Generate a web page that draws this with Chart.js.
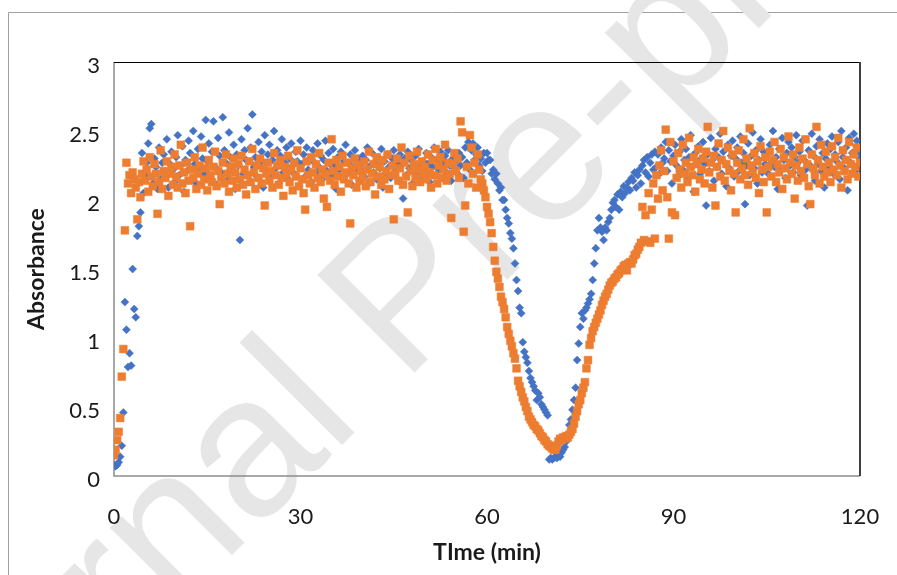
<!DOCTYPE html>
<html>
<head>
<meta charset="utf-8">
<script src="https://cdn.jsdelivr.net/npm/chart.js@4.4.0/dist/chart.umd.min.js"></script>
<style>
    html, body { margin: 0; padding: 0; background: #ffffff; }
    #wrap { width: 897px; height: 575px; position: relative; }
</style>
</head>
<body>
<div id="wrap"><canvas id="chart" width="897" height="575"></canvas></div>
<script>
//Absorbance vs time, two runs.
//one sample every quarter minute.

const TIME_MIN = [
    0,0.25,0.5,0.75,1,1.25,1.5,1.75,2,2.25,2.5,2.75,3,3.25,3.5,3.75,4,4.25,4.5,4.75,
    5,5.25,5.5,5.75,6,6.25,6.5,6.75,7,7.25,7.5,7.75,8,8.25,8.5,8.75,9,9.25,9.5,9.75,
    10,10.25,10.5,10.75,11,11.25,11.5,11.75,12,12.25,12.5,12.75,13,13.25,13.5,13.75,14,14.25,14.5,14.75,
    15,15.25,15.5,15.75,16,16.25,16.5,16.75,17,17.25,17.5,17.75,18,18.25,18.5,18.75,19,19.25,19.5,19.75,
    20,20.25,20.5,20.75,21,21.25,21.5,21.75,22,22.25,22.5,22.75,23,23.25,23.5,23.75,24,24.25,24.5,24.75,
    25,25.25,25.5,25.75,26,26.25,26.5,26.75,27,27.25,27.5,27.75,28,28.25,28.5,28.75,29,29.25,29.5,29.75,
    30,30.25,30.5,30.75,31,31.25,31.5,31.75,32,32.25,32.5,32.75,33,33.25,33.5,33.75,34,34.25,34.5,34.75,
    35,35.25,35.5,35.75,36,36.25,36.5,36.75,37,37.25,37.5,37.75,38,38.25,38.5,38.75,39,39.25,39.5,39.75,
    40,40.25,40.5,40.75,41,41.25,41.5,41.75,42,42.25,42.5,42.75,43,43.25,43.5,43.75,44,44.25,44.5,44.75,
    45,45.25,45.5,45.75,46,46.25,46.5,46.75,47,47.25,47.5,47.75,48,48.25,48.5,48.75,49,49.25,49.5,49.75,
    50,50.25,50.5,50.75,51,51.25,51.5,51.75,52,52.25,52.5,52.75,53,53.25,53.5,53.75,54,54.25,54.5,54.75,
    55,55.25,55.5,55.75,56,56.25,56.5,56.75,57,57.25,57.5,57.75,58,58.25,58.5,58.75,59,59.25,59.5,59.75,
    60,60.25,60.5,60.75,61,61.25,61.5,61.75,62,62.25,62.5,62.75,63,63.25,63.5,63.75,64,64.25,64.5,64.75,
    65,65.25,65.5,65.75,66,66.25,66.5,66.75,67,67.25,67.5,67.75,68,68.25,68.5,68.75,69,69.25,69.5,69.75,
    70,70.25,70.5,70.75,71,71.25,71.5,71.75,72,72.25,72.5,72.75,73,73.25,73.5,73.75,74,74.25,74.5,74.75,
    75,75.25,75.5,75.75,76,76.25,76.5,76.75,77,77.25,77.5,77.75,78,78.25,78.5,78.75,79,79.25,79.5,79.75,
    80,80.25,80.5,80.75,81,81.25,81.5,81.75,82,82.25,82.5,82.75,83,83.25,83.5,83.75,84,84.25,84.5,84.75,
    85,85.25,85.5,85.75,86,86.25,86.5,86.75,87,87.25,87.5,87.75,88,88.25,88.5,88.75,89,89.25,89.5,89.75,
    90,90.25,90.5,90.75,91,91.25,91.5,91.75,92,92.25,92.5,92.75,93,93.25,93.5,93.75,94,94.25,94.5,94.75,
    95,95.25,95.5,95.75,96,96.25,96.5,96.75,97,97.25,97.5,97.75,98,98.25,98.5,98.75,99,99.25,99.5,99.75,
    100,100.25,100.5,100.75,101,101.25,101.5,101.75,102,102.25,102.5,102.75,103,103.25,103.5,103.75,104,104.25,104.5,104.75,
    105,105.25,105.5,105.75,106,106.25,106.5,106.75,107,107.25,107.5,107.75,108,108.25,108.5,108.75,109,109.25,109.5,109.75,
    110,110.25,110.5,110.75,111,111.25,111.5,111.75,112,112.25,112.5,112.75,113,113.25,113.5,113.75,114,114.25,114.5,114.75,
    115,115.25,115.5,115.75,116,116.25,116.5,116.75,117,117.25,117.5,117.75,118,118.25,118.5,118.75,119,119.25,119.5,119.75,
    120,
];

//blue diamonds
const RUN_A = [
    0.08,0.07,0.08,0.10,0.14,0.22,0.46,1.26,1.06,0.79,0.89,0.80,1.50,1.21,1.15,1.74,1.81,1.91,2.34,2.05,
    2.18,2.27,2.41,2.52,2.55,2.12,2.30,2.24,2.08,2.38,2.15,2.27,2.33,2.19,2.44,2.09,2.26,2.35,2.22,2.13,
    2.31,2.47,2.18,2.25,2.39,2.06,2.29,2.21,2.43,2.34,2.15,2.50,2.26,2.12,2.37,2.23,2.46,2.30,2.19,2.58,
    2.28,2.41,2.17,2.35,2.57,2.24,2.11,2.45,2.32,2.20,2.60,2.36,2.27,2.14,2.49,2.31,2.22,2.40,2.08,2.33,
    2.25,1.71,2.44,2.19,2.36,2.29,2.52,2.13,2.38,2.62,2.24,2.31,2.17,2.42,2.27,2.35,2.09,2.47,2.21,2.33,
    2.40,2.18,2.29,2.50,2.23,2.36,2.12,2.32,2.44,2.20,2.27,2.38,2.15,2.30,2.41,2.25,2.19,2.35,2.28,2.10,
    2.43,2.26,2.33,2.17,2.38,2.22,2.30,2.13,2.36,2.27,2.20,2.41,2.24,2.32,2.15,2.29,2.43,2.21,2.34,2.26,
    2.18,2.37,2.25,2.08,2.31,2.22,2.35,2.16,2.28,2.40,2.19,2.27,2.33,2.11,2.24,2.36,2.21,2.30,2.14,2.26,
    2.32,2.17,2.29,2.38,2.12,2.25,2.34,2.20,2.27,2.15,2.31,2.23,2.37,2.09,2.28,2.19,2.33,2.24,2.16,2.30,
    2.36,2.21,2.27,2.14,2.33,2.25,2.01,2.30,2.18,2.35,2.23,2.29,2.12,2.26,2.32,2.19,2.37,2.24,2.15,2.28,
    2.21,2.34,2.26,2.13,2.31,2.24,2.38,2.18,2.29,2.22,2.35,2.16,2.27,2.32,2.20,2.36,2.25,2.14,2.30,2.23,
    2.28,2.19,2.34,2.25,2.31,2.16,2.38,2.27,2.42,2.22,2.36,2.41,2.29,2.33,2.38,2.25,2.30,2.21,2.34,2.27,
    2.34,2.29,2.29,2.19,2.22,2.15,2.19,2.12,2.07,2.09,2.00,2.00,1.93,1.87,1.83,1.76,1.72,1.65,1.54,1.42,
    1.34,1.22,1.18,0.97,0.90,0.86,0.82,0.76,0.71,0.68,0.65,0.62,0.55,0.60,0.57,0.52,0.50,0.48,0.46,0.44,
    0.12,0.13,0.12,0.13,0.14,0.13,0.15,0.14,0.17,0.19,0.21,0.25,0.30,0.37,0.41,0.48,0.55,0.64,0.84,0.96,
    1.08,1.18,1.14,1.20,1.22,1.25,1.28,1.32,1.42,1.54,1.65,1.78,1.87,1.80,1.77,1.71,1.80,1.78,1.84,1.87,
    1.93,1.98,2.00,1.95,2.04,1.93,2.06,2.02,2.10,2.05,2.09,2.13,2.07,2.16,2.14,2.20,2.09,2.18,2.22,2.12,
    2.25,2.29,2.20,2.31,2.17,2.27,2.33,2.22,2.35,2.24,2.33,2.19,2.38,2.27,2.30,2.42,2.21,2.36,2.28,2.12,
    2.32,2.40,2.25,2.17,2.35,2.44,2.22,2.29,2.37,2.15,2.31,2.47,2.24,2.06,2.34,2.27,2.39,2.19,2.30,2.42,
    2.26,1.96,2.33,2.21,2.45,2.29,2.14,2.37,2.24,2.31,2.48,2.19,2.35,2.27,2.10,2.40,2.23,2.32,2.43,2.17,
    2.30,2.38,2.21,2.46,2.27,2.34,1.97,2.25,2.41,2.18,2.32,2.49,2.23,2.36,2.12,2.29,2.44,2.20,2.35,2.26,
    2.33,2.19,2.40,2.27,2.50,2.24,2.31,2.08,2.37,2.22,2.45,2.29,2.16,2.34,2.42,2.25,2.38,2.20,2.31,2.47,
    2.27,2.35,2.18,2.43,2.29,2.22,1.96,2.36,2.25,2.48,2.32,2.14,2.39,2.26,2.44,2.21,2.34,2.09,2.30,2.41,
    2.24,2.37,2.46,2.19,2.33,2.28,2.42,2.15,2.50,2.31,2.23,2.38,2.07,2.45,2.27,2.34,2.48,2.21,2.43,2.35,
    2.30,
];

//orange squares
const RUN_B = [
    0.15,0.19,0.26,0.32,0.42,0.72,0.92,1.78,2.27,2.12,2.18,2.05,2.20,2.15,2.09,1.86,2.13,2.02,2.19,2.28,
    2.14,2.22,2.06,2.31,2.17,2.10,2.26,2.19,1.90,2.13,2.36,2.08,2.21,2.16,2.28,2.03,2.19,2.24,2.11,2.33,
    2.17,2.09,2.25,2.40,2.12,2.20,2.05,2.27,2.14,1.81,2.22,2.16,2.31,2.08,2.19,2.25,2.11,2.38,2.15,2.23,
    2.07,2.29,2.18,2.13,2.24,2.35,2.10,2.21,1.97,2.16,2.27,2.12,2.33,2.19,2.06,2.24,2.14,2.30,2.20,2.09,
    2.26,2.15,2.32,2.11,2.22,2.04,2.18,2.28,2.13,2.37,2.20,2.08,2.25,2.16,2.30,2.12,2.23,1.96,2.19,2.27,
    2.14,2.21,2.09,2.34,2.18,2.25,2.11,2.29,2.16,2.03,2.24,2.19,2.32,2.13,2.22,2.07,2.27,2.17,2.36,2.10,
    2.23,2.15,2.05,1.93,2.28,2.18,2.12,2.31,2.20,2.09,2.26,2.16,2.34,2.13,2.22,2.01,2.19,1.95,2.27,2.14,
    2.44,2.21,2.11,2.29,2.17,2.24,2.06,2.32,2.15,2.20,2.27,2.12,1.83,2.23,2.18,2.30,2.09,2.25,2.14,2.21,
    2.16,2.28,2.10,2.22,2.35,2.13,2.19,2.26,2.04,2.31,2.17,2.24,2.11,2.29,2.15,2.21,2.33,2.08,2.18,2.25,
    1.86,2.19,2.30,2.14,2.23,2.38,2.11,2.27,2.17,1.91,2.32,2.21,2.10,2.26,2.16,2.35,2.22,2.13,2.28,2.19,
    2.24,2.15,2.33,2.20,2.09,2.29,2.18,2.37,2.12,2.25,2.31,2.16,2.22,2.40,2.14,2.27,2.19,1.87,2.26,2.34,
    2.21,2.30,2.16,2.57,2.49,1.77,1.96,2.24,2.12,2.47,2.38,2.19,2.27,2.09,2.33,2.22,2.15,2.12,2.07,2.02,
    1.95,1.90,1.84,1.76,1.66,1.56,1.48,1.43,1.37,1.30,1.26,1.21,1.15,1.08,1.03,0.98,0.94,0.89,0.85,0.78,
    0.69,0.65,0.61,0.57,0.54,0.50,0.47,0.43,0.41,0.39,0.37,0.36,0.34,0.33,0.31,0.29,0.28,0.26,0.25,0.23,
    0.22,0.21,0.20,0.19,0.19,0.22,0.25,0.27,0.26,0.28,0.27,0.29,0.28,0.30,0.32,0.34,0.38,0.43,0.47,0.52,
    0.55,0.60,0.64,0.68,0.78,0.84,0.95,1.00,1.05,1.08,1.11,1.14,1.17,1.20,1.24,1.27,1.30,1.32,1.35,1.38,
    1.40,1.41,1.43,1.44,1.46,1.47,1.49,1.50,1.52,1.53,1.49,1.54,1.55,1.54,1.57,1.60,1.61,1.64,1.66,1.69,
    1.95,1.71,1.89,1.70,2.05,1.69,1.93,2.12,1.72,2.18,2.01,2.25,2.36,2.07,2.21,2.51,2.02,1.72,2.42,1.91,
    2.28,1.89,2.16,2.34,2.22,2.09,2.40,2.19,2.27,2.13,2.45,2.24,2.18,2.31,2.06,2.26,2.37,2.15,2.22,2.30,
    2.12,2.35,2.53,2.20,2.27,2.09,2.32,1.96,2.24,2.41,2.17,2.29,2.50,2.14,2.26,2.38,2.21,2.07,2.33,2.19,
    1.91,2.27,2.36,2.15,2.23,2.44,2.18,2.30,2.11,2.52,2.25,2.20,2.34,2.16,2.28,2.05,2.39,2.22,2.13,2.31,
    1.91,2.24,2.35,2.17,2.29,2.42,2.13,2.26,2.20,2.37,2.08,2.31,2.23,2.15,2.46,2.27,2.19,2.33,2.01,2.25,
    2.14,2.38,2.21,2.30,2.16,2.44,2.26,2.10,1.97,2.33,2.23,2.18,2.53,2.29,2.12,2.40,2.24,2.17,2.35,2.20,
    2.27,2.13,2.39,2.22,2.31,2.18,2.45,2.25,2.09,2.36,2.21,2.29,2.15,2.42,2.26,2.19,2.33,2.24,2.38,2.17,
    2.27,
];

const X_TICKS = [0, 30, 60, 90, 120];
const Y_TICKS = [0, 0.5, 1, 1.5, 2, 2.5, 3];
const Y_TICK_LABELS = ['0', '0.5', '1', '1.5', '2', '2.5', '3'];
const X_TITLE = 'TIme (min)';
const Y_TITLE = 'Absorbance';
const WATERMARK = 'Journal Pre-proof';

const BLUE   = '#4472c4';
const ORANGE = '#ed7d31';
const INK    = '#1a1a1a';
const FONT   = 'Lato, "Open Sans", sans-serif';

function toPoints(ys)
{
    return TIME_MIN.map((t, i) => ({ x: t, y: ys[i] }));
}

//Page furniture drawn straight onto the canvas: the grey sheet frame,
//the diagonal watermark, the plot box and both axis titles.
const decor = {
    id: 'decor',
    beforeDraw(chart)
    {
        const ctx = chart.ctx;
        ctx.save();
        ctx.strokeStyle = '#a0a0a0';
        ctx.lineWidth = 1;
        ctx.beginPath();
        ctx.moveTo(8.5, 575);
        ctx.lineTo(8.5, 12.5);
        ctx.lineTo(897, 12.5);
        ctx.stroke();

        ctx.translate(-100, 887);
        ctx.rotate(-Math.PI / 4);
        ctx.fillStyle = '#e6e6e6';
        ctx.font = '200px "Liberation Sans", Arial, sans-serif';
        ctx.textBaseline = 'alphabetic';
        ctx.textAlign = 'left';
        ctx.fillText(WATERMARK, 0, 0);
        ctx.restore();
    },
    beforeDatasetsDraw(chart)
    {
        const a = chart.chartArea;
        const ctx = chart.ctx;
        ctx.save();
        ctx.lineWidth = 1.5;
        ctx.strokeStyle = '#8c8c8c';
        ctx.beginPath();
        ctx.moveTo(a.left, a.top);
        ctx.lineTo(a.left, a.bottom);
        ctx.lineTo(a.right, a.bottom);
        ctx.stroke();
        ctx.lineWidth = 1;
        ctx.strokeStyle = '#000000';
        ctx.beginPath();
        ctx.moveTo(a.left, a.top + 0.5);
        ctx.lineTo(a.right, a.top + 0.5);
        ctx.stroke();
        ctx.lineWidth = 2;
        ctx.strokeStyle = '#404040';
        ctx.beginPath();
        ctx.moveTo(a.right, a.top);
        ctx.lineTo(a.right, a.bottom);
        ctx.stroke();
        ctx.restore();
    },
    afterDraw(chart)
    {
        const a = chart.chartArea;
        const ctx = chart.ctx;
        ctx.save();
        ctx.fillStyle = INK;
        ctx.font = 'bold 23px ' + FONT;
        ctx.textAlign = 'center';
        ctx.textBaseline = 'middle';
        ctx.fillText(X_TITLE, (a.left + a.right) / 2, 553);
        ctx.translate(37, (a.top + a.bottom) / 2);
        ctx.rotate(-Math.PI / 2);
        ctx.fillText(Y_TITLE, 0, 0);
        ctx.restore();
    },
};

new Chart(document.getElementById('chart'), {
    type: 'scatter',
    data: {
        datasets: [
            {
                label: 'A',
                data: toPoints(RUN_A),
                pointStyle: 'rectRot',
                pointRadius: 4,
                backgroundColor: BLUE,
                borderColor: BLUE,
                borderWidth: 0.5,
                order: 1,
            },
            {
                label: 'B',
                data: toPoints(RUN_B),
                pointStyle: 'rect',
                pointRadius: 5.5,
                backgroundColor: ORANGE,
                borderColor: ORANGE,
                borderWidth: 0.5,
                order: 0,
            },
        ],
    },
    options: {
        responsive: false,
        animation: false,
        events: [],
        layout: { padding: { left: 0, right: 37, top: 62, bottom: 0 } },
        plugins: {
            legend: { display: false },
            tooltip: { enabled: false },
        },
        scales: {
            x: {
                type: 'linear',
                min: 0,
                max: 120,
                //tick padding would otherwise widen the right gutter
                afterFit: (s) => { s.height = 99; s.paddingLeft = 0; s.paddingRight = 0; },
                afterBuildTicks: (s) => { s.ticks = X_TICKS.map((v) => ({ value: v })); },
                ticks: { color: INK, font: { family: FONT, size: 22 }, padding: 28, maxRotation: 0 },
                grid: { display: false, drawTicks: false },
                border: { display: false },
            },
            y: {
                min: 0,
                max: 3,
                afterFit: (s) => { s.width = 114; s.paddingTop = 0; s.paddingBottom = 0; },
                afterBuildTicks: (s) => { s.ticks = Y_TICKS.map((v) => ({ value: v })); },
                ticks: {
                    color: INK,
                    font: { family: FONT, size: 22 },
                    padding: 14,
                    labelOffset: 4,
                    callback: (v, i) => Y_TICK_LABELS[i],
                },
                grid: { display: false, drawTicks: false },
                border: { display: false },
            },
        },
    },
    plugins: [decor],
});
</script>
</body>
</html>
